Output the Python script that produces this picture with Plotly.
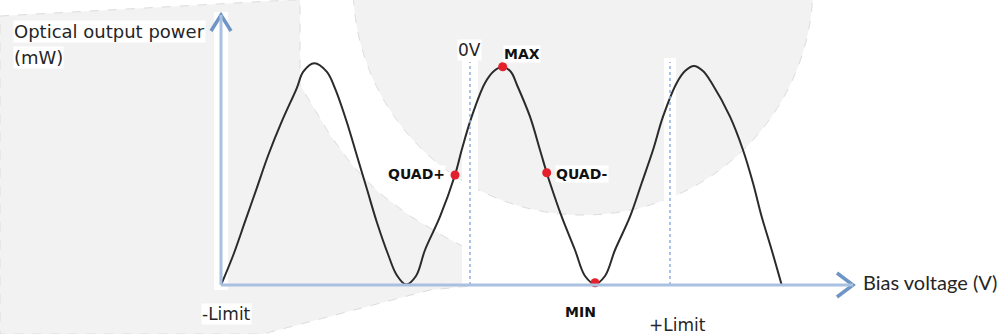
import plotly.graph_objects as go

# transfer curve (bias in arbitrary units from -Limit, power in arbitrary units)
bias = [0, 12.3, 24, 35.7, 47.3, 60.7, 75.7, 82.3, 93.3, 105.7, 114, 125.7, 135.7, 145.7,
        155.7, 167.3, 175.7, 185, 195, 204, 219, 234, 240.7, 250.7, 264, 273, 281.7,
        290, 296, 309, 319, 325.7, 329, 340.7, 354, 364, 374, 384, 394, 409, 420.7, 432,
        442, 455.7, 464, 473, 482, 490.7, 509, 522, 532, 540.7, 550.7, 560.7]
power = [0, 30, 63.3, 96.7, 130, 163.3, 196.7, 213.3, 221.7, 213.3, 196.7, 163.3, 130, 96.7,
         63.3, 30, 10, 0.5, 9, 35, 68.3, 110, 135, 168.3, 202, 214, 218.3,
         213, 200, 168.3, 135, 112.3, 102, 68.3, 35, 9, 1, 9, 35, 68.3, 102, 135,
         168.3, 202, 214, 219, 214, 202, 168.3, 135, 102, 68.3, 35, 0]

point_names = ["QUAD+", "MAX", "QUAD-", "MIN"]
point_bias = [234, 281.7, 325.7, 374]
point_power = [110, 218.3, 112.3, 2.3]

limit_names = ["-Limit", "0V", "+Limit"]
limit_bias = [0, 249, 449]
limit_top = 223

AXIS = "#a9c1e0"
ARROW = "#6f95c6"
GRAY = "#f2f2f2"
EDGE = "#dcdcdc"


def px(x, y):
    # picture pixel -> data units
    return x - 221, 285 - y


def path(points):
    pts = [px(x, y) for x, y in points]
    return "M " + " L ".join(f"{x},{y}" for x, y in pts) + " Z"


fig = go.Figure()

shapes = []
# pale background left over from the source slide
shapes.append(dict(type="path", layer="below", fillcolor=GRAY,
                   line=dict(color=EDGE, width=1, dash="dash"),
                   path=path([(0, 16), (290, 0), (300, 0), (300, 85), (312, 105), (330, 135),
                              (352, 165), (378, 192), (410, 216), (445, 237), (470, 250),
                              (470, 286), (430, 290), (263, 334), (0, 334)])))
cx0, cy0 = px(353, 215)
cx1, cy1 = px(813, -245)
shapes.append(dict(type="circle", layer="below", fillcolor=GRAY,
                   line=dict(color=EDGE, width=1, dash="dash"),
                   x0=cx0, y0=cy0, x1=cx1, y1=cy1))
# white strips behind the guide lines
for (a, b, c, d) in [(214, 12, 228, 290), (462, 42, 478, 286), (664, 58, 676, 286)]:
    x0, y0 = px(a, d)
    x1, y1 = px(c, b)
    shapes.append(dict(type="rect", layer="below", fillcolor="white", line_width=0,
                       x0=x0, y0=y0, x1=x1, y1=y1))

# dotted guide lines at 0V and +Limit
for xb in limit_bias[1:]:
    shapes.append(dict(type="line", x0=xb, x1=xb, y0=0, y1=limit_top,
                       line=dict(color="#8fb0dc", width=1.5, dash="dot")))

# axes
xa_end = px(853, 285)[0]
ya_end = px(221, 15)[1]
shapes.append(dict(type="line", x0=0, y0=0, x1=xa_end, y1=0, line=dict(color=AXIS, width=3)))
shapes.append(dict(type="line", x0=0, y0=0, x1=0, y1=ya_end, line=dict(color=AXIS, width=3)))
fig.update_layout(shapes=shapes)

# arrow heads
ax = [px(837, 273), px(853, 285), px(837, 297)]
ay = [px(211, 31), px(221, 15), px(231, 31)]
for head in (ax, ay):
    fig.add_trace(go.Scatter(x=[p[0] for p in head], y=[p[1] for p in head], mode="lines",
                             line=dict(color=ARROW, width=3.5), hoverinfo="skip"))

fig.add_trace(go.Scatter(x=bias, y=power, mode="lines",
                         line=dict(color="#2b2b2b", width=2, shape="spline", smoothing=1),
                         hoverinfo="skip"))
fig.add_trace(go.Scatter(x=point_bias, y=point_power, mode="markers",
                         marker=dict(color="#e3202b", size=9), hoverinfo="skip"))

REG = dict(family="DejaVu Sans", size=18, color="#262626")
LIM = dict(family="DejaVu Sans", size=17, color="#262626")
BOLD = dict(family="DejaVu Sans", size=14, color="#111111", weight="bold")

labels = [
    ("Optical output power", 13, 31, "left", REG),
    ("(mW)", 13, 57, "left", REG),
    ("Bias voltage (V)", 862, 282, "left", dict(family="Lato", size=20, color="#262626")),
    (limit_names[0], 226, 314, "center", LIM),
    (limit_names[1], 469, 50, "center", LIM),
    (limit_names[2], 677, 325, "center", LIM),
    (point_names[0], 446, 174, "right", BOLD),
    (point_names[1], 503, 54, "left", BOLD),
    (point_names[2], 555, 174, "left", BOLD),
    (point_names[3], 580, 312, "center", BOLD),
]
for text, lx, ly, anchor, font in labels:
    x, y = px(lx, ly)
    fig.add_annotation(x=x, y=y, text=text, showarrow=False, xanchor=anchor, yanchor="middle",
                       font=font, bgcolor="white", borderpad=0)

fig.update_layout(
    width=1000, height=334,
    margin=dict(l=0, r=0, t=0, b=0),
    paper_bgcolor="white", plot_bgcolor="white",
    showlegend=False,
    xaxis=dict(range=[-221, 779], visible=False, fixedrange=True),
    yaxis=dict(range=[-49, 285], visible=False, fixedrange=True),
)

fig.write_html("out.html", config={"displayModeBar": False},
               post_script="document.body.style.margin='0';")
